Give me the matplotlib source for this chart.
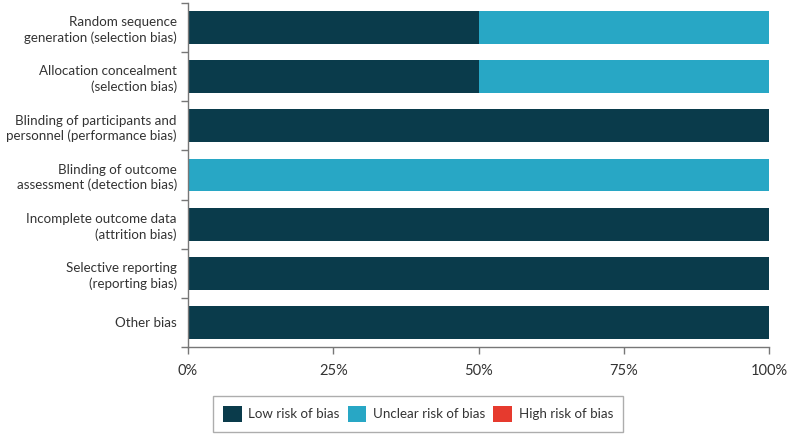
import matplotlib
matplotlib.use("Agg")
import matplotlib.pyplot as plt
from matplotlib.patches import Patch
import numpy as np

plt.rcParams['font.family'] = ['Lato', 'DejaVu Sans']

categories = [
    "Random sequence\ngeneration (selection bias)",
    "Allocation concealment\n(selection bias)",
    "Blinding of participants and\npersonnel (performance bias)",
    "Blinding of outcome\nassessment (detection bias)",
    "Incomplete outcome data\n(attrition bias)",
    "Selective reporting\n(reporting bias)",
    "Other bias",
]
low = [50, 50, 100, 0, 100, 100, 100]
unclear = [50, 50, 0, 100, 0, 0, 0]
high = [0, 0, 0, 0, 0, 0, 0]
xticks = [0, 25, 50, 75, 100]
xticklabels = ["0%", "25%", "50%", "75%", "100%"]
series_names = ["Low risk of bias", "Unclear risk of bias", "High risk of bias"]
colors = ["#0a3b4b", "#28a7c5", "#e63a2e"]

fig = plt.figure(figsize=(7.9, 4.36), dpi=100)
ax = fig.add_axes([188/790, 1-347/436, (769-188)/790, (347-3)/436])

y = np.arange(len(categories))
low_a = np.array(low)
unc_a = np.array(unclear)
high_a = np.array(high)
ax.barh(y, low_a, height=0.67, color=colors[0])
ax.barh(y, unc_a, left=low_a, height=0.67, color=colors[1])
ax.barh(y, high_a, left=low_a + unc_a, height=0.67, color=colors[2])

ax.set_xlim(0, 100)
ax.set_ylim(len(categories) - 0.5, -0.5)
ax.set_xticks(xticks)
ax.set_xticklabels(xticklabels, fontsize=10.5, color="#333333")
ax.set_yticks(y)
ax.set_yticklabels(categories, fontsize=9.6, color="#333333", linespacing=1.3)
ax.set_yticks(np.arange(-0.5, len(categories), 1.0), minor=True)
ax.tick_params(axis='y', which='major', length=0, pad=8)
ax.tick_params(axis='y', which='minor', length=5, width=1, color="#777777")
ax.tick_params(axis='x', length=5, width=1, color="#777777", pad=7)

for s in ['top', 'right']:
    ax.spines[s].set_visible(False)
for s in ['left', 'bottom']:
    ax.spines[s].set_color("#777777")
    ax.spines[s].set_linewidth(1)

handles = [Patch(facecolor=c, edgecolor='none', label=n) for c, n in zip(colors, series_names)]
leg = fig.legend(handles=handles, loc='center', bbox_to_anchor=(418/790, 1-414/436),
                 ncol=3, frameon=True, fancybox=False, fontsize=9.6,
                 handlelength=1.4, handleheight=1.4, handletextpad=0.5, columnspacing=0.6,
                 borderpad=0.75, edgecolor="#999999")
leg.get_frame().set_linewidth(1)
for t in leg.get_texts():
    t.set_color("#333333")

fig.savefig("out.png", dpi=100)
